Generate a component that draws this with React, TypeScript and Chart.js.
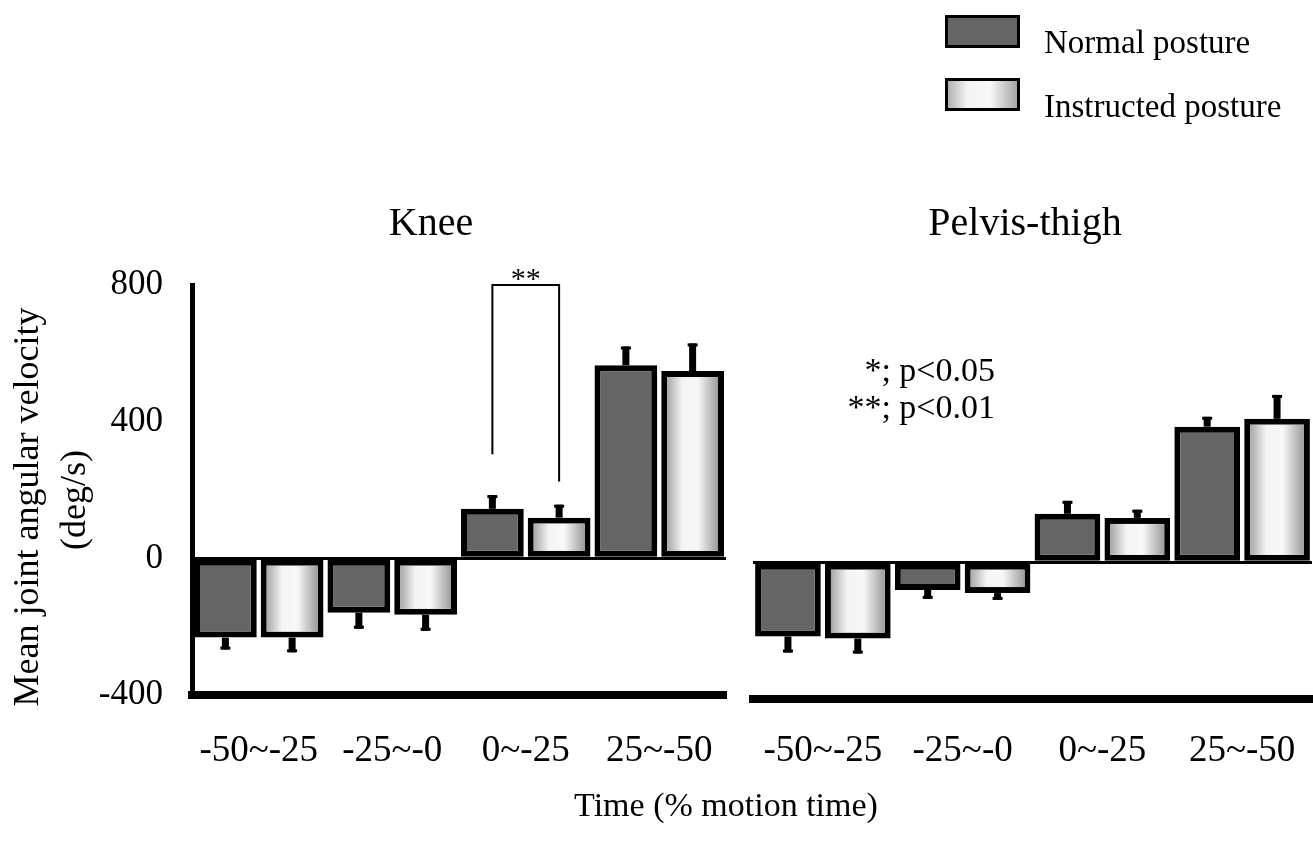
import React, { useEffect, useRef } from "react";
import { Chart, registerables } from "chart.js";
Chart.register(...registerables);

// ---------- data ----------
const categories = ["-50~-25", "-25~-0", "0~-25", "25~-50"];
const seriesNames = ["Normal posture", "Instructed posture"];
const panelTitles = ["Knee", "Pelvis-thigh"];
const yTicks = [-400, 0, 400, 800];

const kneeNormal = [-232, -159, 145, 565];
const kneeNormalErr = [35, 47, 40, 55];
const kneeInstructed = [-232, -165, 119, 548];
const kneeInstructedErr = [43, 47, 38, 81];

const pelvisNormal = [-217, -81, 142, 397];
const pelvisNormalErr = [47, 26, 38, 29];
const pelvisInstructed = [-223, -90, 130, 420];
const pelvisInstructedErr = [44, 20, 24, 70];

// significance bracket on Knee 0~-25: left leg end, top, right leg end
const bracketLevels = [305, 800, 225];
const statNotes = ["*; p<0.05", "**; p<0.01"];

const yTitle = ["Mean joint angular velocity", "(deg/s)"];
const xTitle = "Time (% motion time)";

// ---------- styles ----------
const FONT = '"Liberation Serif", "Times New Roman", serif';
const NORMAL_FILL = "#656565";
const INSTR_FILL = "#d6d6d6";
const W = 1313;
const H = 859;

function font(size: number) {
  return `${size}px ${FONT}`;
}

function instructedGradient(ctx: CanvasRenderingContext2D, x0: number, x1: number) {
  const g = ctx.createLinearGradient(x0, 0, x1, 0);
  g.addColorStop(0, "#a8a8a8");
  g.addColorStop(0.3, "#f4f4f4");
  g.addColorStop(0.6, "#f8f8f8");
  g.addColorStop(1, "#9c9c9c");
  return g;
}

const errorBarPlugin = {
  id: "errorBars",
  afterDatasetsDraw(chart: any) {
    const ctx = chart.ctx;
    const ys = chart.scales.y;
    // lighter centre for the instructed bars (inside their border)
    const metaI = chart.getDatasetMeta(1);
    metaI.data.forEach((el: any) => {
      const { x, y, base, width } = el.getProps(["x", "y", "base", "width"], true);
      const bw = 6;
      const left = x - width / 2 + bw;
      const right = x + width / 2 - bw;
      const top = Math.min(y, base) + bw;
      const bottom = Math.max(y, base) - bw;
      if (right > left && bottom > top) {
        ctx.save();
        ctx.fillStyle = instructedGradient(ctx, left, right);
        ctx.fillRect(left, top, right - left, bottom - top);
        ctx.restore();
      }
    });
    chart.data.datasets.forEach((ds: any, i: number) => {
      const meta = chart.getDatasetMeta(i);
      meta.data.forEach((el: any, j: number) => {
        const v = ds.data[j];
        const e = ds.errors[j];
        const end = ys.getPixelForValue(v >= 0 ? v + e : v - e);
        ctx.save();
        ctx.fillStyle = "#000";
        const top = Math.min(el.y, end);
        const h = Math.abs(el.y - end);
        ctx.fillRect(el.x - 3.5, top, 7, h);
        ctx.fillRect(el.x - 5, v >= 0 ? end : end - 3, 10, 3);
        ctx.restore();
      });
    });
  },
};

function makeDatasets(n: number[], nErr: number[], ins: number[], insErr: number[]) {
  return [
    {
      label: seriesNames[0],
      data: n,
      errors: nErr,
      backgroundColor: NORMAL_FILL,
      borderColor: "#000",
      borderWidth: 6,
      borderSkipped: false,
      barPercentage: 0.94,
      categoryPercentage: 1.0,
    },
    {
      label: seriesNames[1],
      data: ins,
      errors: insErr,
      backgroundColor: INSTR_FILL,
      borderColor: "#000",
      borderWidth: 6,
      borderSkipped: false,
      barPercentage: 0.94,
      categoryPercentage: 1.0,
    },
  ];
}

function baseOptions(opts: {
  left: number;
  right: number;
  top: number;
  bottom: number;
  showY: boolean;
  xPad: number;
}) {
  return {
    responsive: false,
    animation: false as const,
    devicePixelRatio: 1,
    layout: {
      padding: {
        left: opts.showY ? 0 : opts.left,
        right: W - opts.right,
        top: opts.top,
        bottom: 0,
      },
    },
    plugins: {
      legend: { display: false },
      tooltip: { enabled: false },
      title: { display: false },
    },
    scales: {
      x: {
        type: "category" as const,
        offset: true,
        grid: { display: false, drawTicks: false },
        border: { display: true, color: "#000", width: 8 },
        ticks: {
          color: "#000",
          font: { family: FONT, size: 37 },
          padding: opts.xPad,
          maxRotation: 0,
          autoSkip: false,
        },
        afterFit: (s: any) => {
          s.height = H - opts.bottom;
          s.paddingLeft = 0;
          s.paddingRight = 0;
        },
      },
      y: {
        min: -400,
        max: 800,
        afterBuildTicks: (s: any) => {
          s.ticks = yTicks.map((v) => ({ value: v }));
        },
        grid: {
          drawTicks: false,
          color: (c: any) => (c.tick && c.tick.value === 0 ? "#000" : "rgba(0,0,0,0)"),
          lineWidth: (c: any) => (c.tick && c.tick.value === 0 ? 3 : 0),
        },
        border: { display: opts.showY, color: "#000", width: 5 },
        ticks: {
          display: opts.showY,
          color: "#000",
          font: { family: FONT, size: 35 },
          padding: 29,
        },
        afterFit: (s: any) => {
          s.width = opts.showY ? opts.left : 0;
          s.paddingTop = 0;
          s.paddingBottom = 0;
        },
      },
    },
  };
}

const kneeTextPlugin = {
  id: "kneeText",
  afterDraw(chart: any) {
    const ctx = chart.ctx;
    const ys = chart.scales.y;
    ctx.save();
    ctx.fillStyle = "#000";
    ctx.strokeStyle = "#000";
    // panel title
    ctx.font = font(40);
    ctx.textAlign = "center";
    ctx.textBaseline = "alphabetic";
    ctx.fillText(panelTitles[0], 431, 235);
    // y axis title (two rotated lines)
    ctx.font = font(36);
    ctx.textBaseline = "middle";
    ctx.save();
    ctx.translate(29, 507);
    ctx.rotate(-Math.PI / 2);
    ctx.fillText(yTitle[0], 0, 0);
    ctx.restore();
    ctx.save();
    ctx.translate(76, 500);
    ctx.rotate(-Math.PI / 2);
    ctx.fillText(yTitle[1], 0, 0);
    ctx.restore();
    // x axis title
    ctx.textBaseline = "alphabetic";
    ctx.font = font(34);
    ctx.fillText(xTitle, 726, 816);
    // significance bracket between bars of category 3
    const a = chart.getDatasetMeta(0).data[2];
    const b = chart.getDatasetMeta(1).data[2];
    ctx.lineWidth = 2;
    ctx.beginPath();
    ctx.moveTo(a.x, ys.getPixelForValue(bracketLevels[0]));
    ctx.lineTo(a.x, ys.getPixelForValue(bracketLevels[1]));
    ctx.lineTo(b.x, ys.getPixelForValue(bracketLevels[1]));
    ctx.lineTo(b.x, ys.getPixelForValue(bracketLevels[2]));
    ctx.stroke();
    ctx.font = font(30);
    ctx.fillText("**", (a.x + b.x) / 2, 288);
    ctx.restore();
  },
};

const pelvisTextPlugin = {
  id: "pelvisText",
  afterDraw(chart: any) {
    const ctx = chart.ctx;
    ctx.save();
    ctx.fillStyle = "#000";
    ctx.font = font(40);
    ctx.textAlign = "center";
    ctx.textBaseline = "alphabetic";
    ctx.fillText(panelTitles[1], 1025, 235);
    // significance notes
    ctx.font = font(34);
    ctx.textAlign = "right";
    ctx.fillText(statNotes[0], 995, 381);
    ctx.fillText(statNotes[1], 995, 418);
    // legend
    const boxes = [
      { y: 15, fill: NORMAL_FILL, text: seriesNames[0], base: 53 },
      { y: 78, fill: "", text: seriesNames[1], base: 117 },
    ];
    ctx.textAlign = "left";
    ctx.font = font(33);
    boxes.forEach((bx) => {
      ctx.fillStyle = bx.fill || instructedGradient(ctx, 945, 1020);
      ctx.fillRect(945, bx.y, 75, 33);
      ctx.lineWidth = 3;
      ctx.strokeStyle = "#000";
      ctx.strokeRect(946.5, bx.y + 1.5, 72, 30);
      ctx.fillStyle = "#000";
      ctx.fillText(bx.text, 1044, bx.base);
    });
    ctx.restore();
  },
};

export default function App() {
  const r1 = useRef<HTMLCanvasElement>(null);
  const r2 = useRef<HTMLCanvasElement>(null);

  useEffect(() => {
    const c1 = new Chart(r1.current as HTMLCanvasElement, {
      type: "bar",
      data: {
        labels: categories,
        datasets: makeDatasets(kneeNormal, kneeNormalErr, kneeInstructed, kneeInstructedErr) as any,
      },
      options: baseOptions({ left: 192, right: 726, top: 285, bottom: 695, showY: true, xPad: 34 }) as any,
      plugins: [errorBarPlugin, kneeTextPlugin],
    });
    const c2 = new Chart(r2.current as HTMLCanvasElement, {
      type: "bar",
      data: {
        labels: categories,
        datasets: makeDatasets(pelvisNormal, pelvisNormalErr, pelvisInstructed, pelvisInstructedErr) as any,
      },
      options: baseOptions({ left: 753, right: 1312, top: 289, bottom: 699, showY: false, xPad: 30 }) as any,
      plugins: [errorBarPlugin, pelvisTextPlugin],
    });
    return () => {
      c1.destroy();
      c2.destroy();
    };
  }, []);

  return (
    <div style={{ position: "absolute", left: 0, top: 0, width: W, height: H, background: "#fff", overflow: "hidden" }}>
      <canvas ref={r1} width={W} height={H} style={{ position: "absolute", left: 0, top: 0, width: W, height: H }} />
      <canvas ref={r2} width={W} height={H} style={{ position: "absolute", left: 0, top: 0, width: W, height: H }} />
    </div>
  );
}
